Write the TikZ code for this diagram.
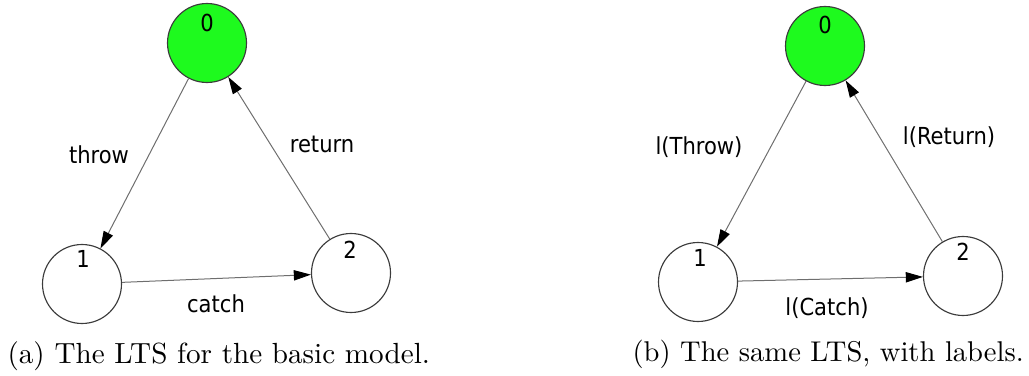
\documentclass[tikz,border=0pt]{standalone}
\usepackage{fontspec}
\newfontfamily\lblfont{DejaVu Sans Condensed}
\usetikzlibrary{arrows.meta}
\definecolor{stategreen}{RGB}{30,250,30}
\definecolor{edgegray}{RGB}{110,110,110}
\definecolor{ringgray}{RGB}{60,60,60}
\begin{document}
\begin{tikzpicture}[x=0.35pt,y=-0.35pt,
  state/.style={circle,draw=ringgray,line width=0.4pt,minimum size=79*0.35pt,inner sep=0pt},
  initstate/.style={state,fill=stategreen},
  num/.style={font=\lblfont\fontsize{8.2}{9}\selectfont,inner sep=0pt},
  elabel/.style={font=\lblfont\fontsize{8.2}{9}\selectfont,inner sep=0pt},
  trans/.style={draw=edgegray,line width=0.35pt,-{Triangle[length=6pt,width=3.6pt,fill=black,color=black]}},
  caption/.style={anchor=base west,inner sep=0pt}]
\useasboundingbox (0,0) rectangle (1029,376);
% ---- (a)
\node[initstate] (a0) at (207,43) {};
\node[state] (a1) at (82,284) {};
\node[state] (a2) at (351,273) {};
\node[num] (a0n) at (207,23) {0};
\node[num] (a1n) at (83,259) {1};
\node[num] (a2n) at (350,250) {2};
\draw[trans] (a0) -- (a1);
\draw[trans] (a1) -- (a2);
\draw[trans] (a2) -- (a0);
\node[elabel] (athrow) at (99,155) {throw};
\node[elabel] (areturn) at (322,144) {return};
\node[elabel] (acatch) at (216,304) {catch};
\node[caption,font=\fontsize{10.2}{12}\selectfont] (capa) at (7,363) {(a) The LTS for the basic model.};
% ---- (b)
\node[initstate] (b0) at (825,46) {};
\node[state] (b1) at (698,282) {};
\node[state] (b2) at (963,276) {};
\node[num] (b0n) at (825,25) {0};
\node[num] (b1n) at (700,258) {1};
\node[num] (b2n) at (963,252) {2};
\draw[trans] (b0) -- (b1);
\draw[trans] (b1) -- (b2);
\draw[trans] (b2) -- (b0);
\node[elabel] (bthrow) at (699,147) {l(Throw)};
\node[elabel] (breturn) at (949,137) {l(Return)};
\node[elabel] (bcatch) at (827,308) {l(Catch)};
\node[caption,font=\fontsize{10}{12}\selectfont] (capb) at (632,361) {(b) The same LTS, with labels.};
\end{tikzpicture}
\end{document}
